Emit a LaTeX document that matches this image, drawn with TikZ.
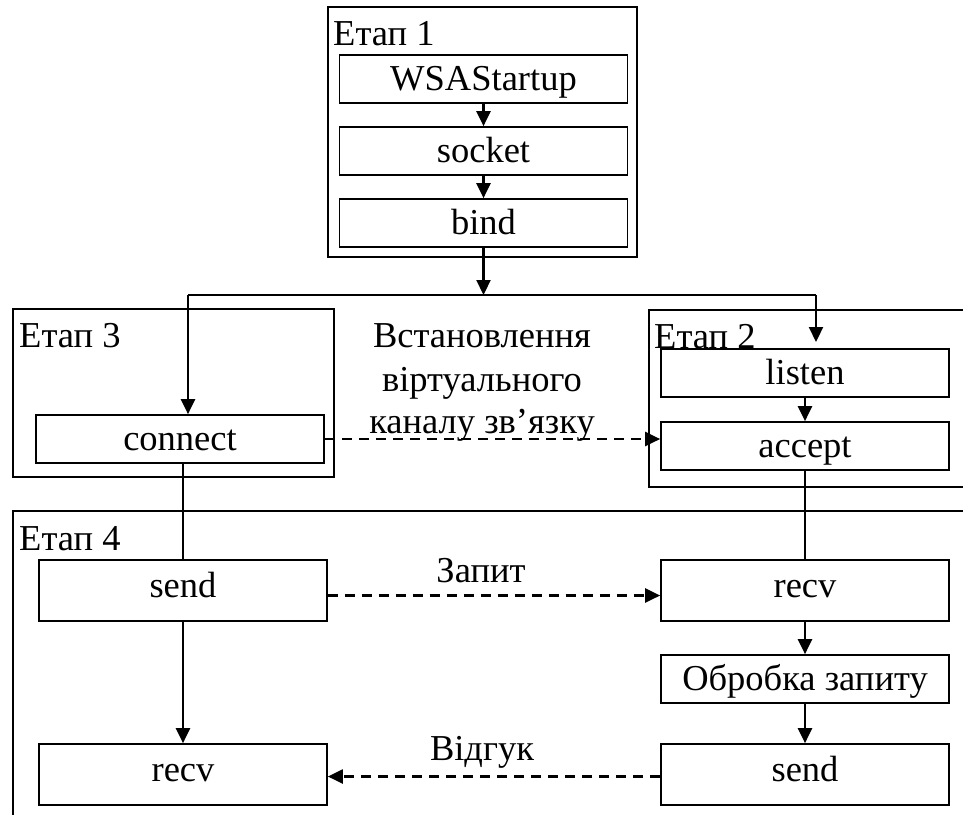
\documentclass[tikz,border=0pt]{standalone}
\usepackage{fontspec}
\setmainfont{Liberation Serif}
\usetikzlibrary{arrows.meta}
\begin{document}
\begin{tikzpicture}[x=1pt,y=-1pt, font=\fontsize{36.5}{43}\selectfont,
  box/.style={draw, line width=1.7pt, inner sep=0pt, minimum width=288pt, minimum height=48pt, text height=24pt, text depth=2pt},
  tallbox/.style={box, minimum height=61pt, text depth=10pt},
  frame/.style={draw, line width=1.3pt},
  conn/.style={line width=2.2pt},
  arr/.style={conn, -{Triangle[length=15pt,width=14pt]}},
  darr/.style={arr, dash pattern=on 10pt off 7pt},
  lbl/.style={anchor=base west, inner sep=0pt},
  txt/.style={anchor=base, inner sep=0pt}]
\useasboundingbox (0,0) rectangle (963,814);
\clip (0,0) rectangle (963,814);

% frames
\draw[frame] (328,7) rectangle (637,257);
\draw[frame] (13,309) rectangle (334,477);
\draw[frame] (649,310) rectangle (1000,487);
\draw[frame] (13,511) rectangle (1000,900);

% stage labels
\node[lbl] (l1) at (333,45) {Етап 1};
\node[lbl] (l3) at (19,347) {Етап 3};
\node[lbl] (l2) at (654,348) {Етап 2};
\node[lbl] (l4) at (19,550) {Етап 4};

% boxes
\node[box] (ws) at (483.5,79) {WSAStartup};
\node[box] (so) at (483.5,151) {socket};
\node[box] (bi) at (483.5,223) {bind};
\node[box] (co) at (180,439) {connect};
\node[box] (li) at (805,373) {listen};
\node[box] (ac) at (805,446) {accept};
\node[tallbox] (s1) at (183,590.5) {send};
\node[tallbox] (r1) at (183,774.5) {recv};
\node[tallbox] (r2) at (805,590.5) {recv};
\node[box] (ob) at (805,679) {Обробка запиту};
\node[tallbox] (s2) at (805,774.5) {send};

% texts
\node[txt] (t1) at (482,347) {Встановлення};
\node[txt] (t2) at (482,391) {віртуального};
\node[txt] (t3) at (482,433) {каналу зв’язку};
\node[txt] (zq) at (481,582) {Запит};
\node[txt] (vd) at (482,760) {Відгук};

% junction
\coordinate (J) at (483.5,295);
\coordinate (JL) at (188,295);
\coordinate (JR) at (816,295);
\coordinate (tl) at (816,342);

% connectors
\draw[arr] (ws) -- (so);
\draw[arr] (so) -- (bi);
\draw[arr] (bi.south) -- (J);
\draw[conn] (JL) -- (JR);
\draw[arr] (JL) -- (JL |- co.north);
\draw[arr] (JR) -- (tl);
\draw[arr] (li) -- (ac);
\draw[conn] (s1.north |- co.south) -- (s1.north);
\draw[conn] (ac.south) -- (r2.north);
\draw[arr] (s1) -- (r1);
\draw[arr] (r2) -- (ob);
\draw[arr] (ob) -- (s2);
\draw[darr] (co.east) -- (co.east -| ac.west);
\draw[darr] ([yshift=-5pt]s1.east) -- ([yshift=-5pt]r2.west);
\draw[darr] ([yshift=-2pt]s2.west) -- ([yshift=-2pt]r1.east);
\end{tikzpicture}
\end{document}
